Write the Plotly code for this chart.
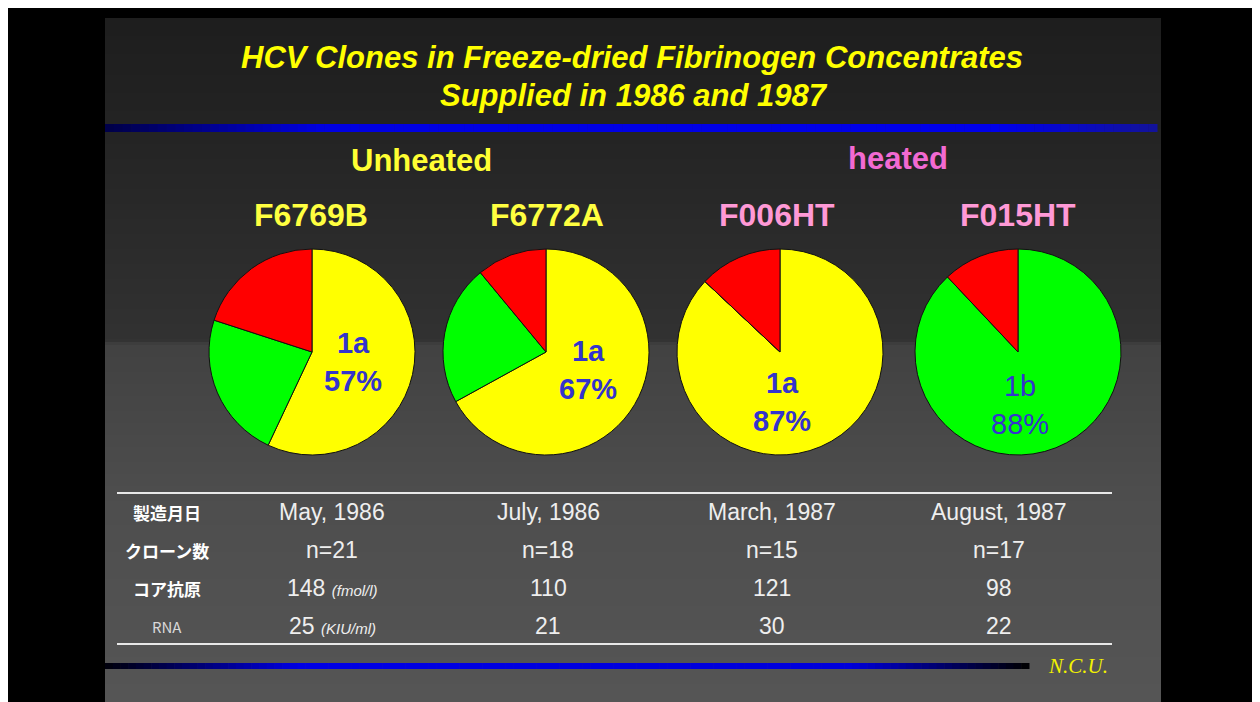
import plotly.graph_objects as go
import numpy as np

# ---------------- data ----------------
lots = ["F6769B", "F6772A", "F006HT", "F015HT"]
groups = ["Unheated", "heated"]
genotypes = ["1a", "1b", "other"]
share_1a = [57, 67, 87, 0]
share_1b = [23, 22, 0, 88]
share_other = [20, 11, 13, 12]
major_label = ["1a<br>57%", "1a<br>67%", "1a<br>87%", "1b<br>88%"]

row_labels = ["製造月日", "クローン数", "コア抗原", "RNA"]
dates = ["May, 1986", "July, 1986", "March, 1987", "August, 1987"]
clone_n = ["n=21", "n=18", "n=15", "n=17"]
core_antigen = ["148", "110", "121", "98"]
rna = ["25", "21", "30", "22"]

# ---------------- layout constants (screen pixel coordinates) ----------------
W, H = 1260, 702
OFF = 8                                # page body margin
SL, SR, ST = 105, 1161, 18           # slide extent
PIE_X = [312, 546, 780, 1018]
PIE_Y = 352
R = 103
LABEL_POS = [(353, 362), (588, 370), (782, 402), (1020, 405)]
COL_X = [332, 548, 772, 999]
ROW_Y = [512, 550, 588, 626]
ROWLAB_X = 167
SLICE_COLORS = ["#ffff00", "#00ff00", "#ff0000"]
FONT = "Liberation Sans, Arial, Noto Sans CJK JP, sans-serif"

shapes = []

# slide background gradient bands
stops_y = [ST, 130, 340, 345, 500, H + OFF]
stops_v = [30, 36, 50, 66, 78, 86]
step = 3
for y0 in range(ST, H + OFF, step):
    v = int(np.interp(y0 + step / 2, stops_y, stops_v))
    shapes.append(dict(type="rect", x0=SL, x1=SR, y0=y0, y1=y0 + step,
                       fillcolor=f"rgb({v},{v},{v})", line_width=0, layer="below"))


def hline_gradient(x_start, x_end, yc, thick, xs, cols, n=120):
    xs = np.array(xs, float)
    cols = np.array(cols, float)
    edges = np.linspace(x_start, x_end, n + 1)
    for a, b in zip(edges[:-1], edges[1:]):
        m = (a + b) / 2
        c = [int(np.interp(m, xs, cols[:, k])) for k in range(3)]
        shapes.append(dict(type="rect", x0=a, x1=b + 0.5, y0=yc - thick / 2, y1=yc + thick / 2,
                           fillcolor=f"rgb({c[0]},{c[1]},{c[2]})", line_width=0, layer="below"))


# top blue rule
hline_gradient(SL, SR - 4, 128, 8, [SL, 320, 1000, SR],
               [[0, 0, 70], [0, 0, 225], [0, 0, 235], [20, 20, 150]])
# bottom blue rule
hline_gradient(SL, 1029, 666, 6, [SL, 300, 850, 1029],
               [[0, 0, 10], [0, 0, 230], [0, 0, 220], [0, 0, 0]])

# table rules
for yy in [493, 644]:
    shapes.append(dict(type="line", x0=117, x1=1112, y0=yy, y1=yy,
                       line=dict(color="#e8e8e8", width=2), layer="below"))

fig = go.Figure()

# invisible anchor trace for the cartesian pixel-space axes
fig.add_trace(go.Scatter(x=[OFF, W + OFF], y=[OFF, H + OFF], mode="markers",
                         marker=dict(opacity=0), hoverinfo="skip", showlegend=False))

for i, lot in enumerate(lots):
    cx = PIE_X[i]
    fig.add_trace(go.Pie(
        labels=genotypes,
        values=[share_1a[i], share_1b[i], share_other[i]],
        sort=False, direction="clockwise", rotation=0,
        marker=dict(colors=SLICE_COLORS, line=dict(color="#111111", width=1)),
        textinfo="none", hoverinfo="skip", showlegend=False,
        domain=dict(x=[(cx - R - OFF) / W, (cx + R - OFF) / W],
                    y=[1 - (PIE_Y + R - OFF) / H, 1 - (PIE_Y - R - OFF) / H]),
    ))

ann = []


def add_text(x, y, text, size, color, family=FONT, xanchor="center"):
    ann.append(dict(x=x, y=y, xref="x", yref="y", text=text, showarrow=False,
                    xanchor=xanchor, yanchor="middle",
                    font=dict(family=family, size=size, color=color)))


# title
add_text(632, 57, "<b><i>HCV Clones in Freeze-dried Fibrinogen Concentrates</i></b>", 31, "#ffff00")
add_text(634, 95, "<b><i>Supplied in 1986 and 1987</i></b>", 31, "#ffff00")

# group headers
add_text(421, 160, "<b>" + groups[0] + "</b>", 31, "#ffff33")
add_text(898, 158, "<b>" + groups[1] + "</b>", 31, "#f26ad2")

# lot names
lot_colors = ["#ffff40", "#ffff40", "#ff99d6", "#ff99d6"]
LOT_X = [311, 547, 777, 1018]
for i, lot in enumerate(lots):
    add_text(LOT_X[i], 215, "<b>" + lot + "</b>", 32, lot_colors[i])

# pie labels
for i, lab in enumerate(major_label):
    t = lab if i == 3 else "<b>" + lab + "</b>"
    ann.append(dict(x=LABEL_POS[i][0], y=LABEL_POS[i][1], xref="x", yref="y", text=t,
                    showarrow=False, align="center",
                    font=dict(family=FONT, size=29, color="#3434cc")))

# table
for r, lab in enumerate(row_labels):
    col = "#d8d8d8" if lab == "RNA" else "#ffffff"
    add_text(ROWLAB_X, ROW_Y[r], ("<b>" + lab + "</b>") if r < 3 else lab,
             17 if r < 3 else 15, col,
             family="Noto Sans CJK JP, Liberation Sans, sans-serif")

unit_core = " <span style='font-size:15px'><i>(fmol/l)</i></span>"
unit_rna = " <span style='font-size:15px'><i>(KIU/ml)</i></span>"
for c in range(4):
    add_text(COL_X[c], ROW_Y[0], dates[c], 23, "#eeeeee")
    add_text(COL_X[c], ROW_Y[1], clone_n[c], 23, "#eeeeee")
    add_text(COL_X[c], ROW_Y[2], core_antigen[c] + (unit_core if c == 0 else ""), 23, "#eeeeee")
    add_text(COL_X[c], ROW_Y[3], rna[c] + (unit_rna if c == 0 else ""), 23, "#eeeeee")

# footer
add_text(1078, 666, "<i>N.C.U.</i>", 21, "#f2f200",
         family="Liberation Serif, Times New Roman, serif")

fig.update_layout(
    width=W, height=H,
    margin=dict(l=0, r=0, t=0, b=0),
    paper_bgcolor="#000000", plot_bgcolor="rgba(0,0,0,0)",
    xaxis=dict(range=[OFF, W + OFF], visible=False, fixedrange=True, domain=[0, 1]),
    yaxis=dict(range=[H + OFF, OFF], visible=False, fixedrange=True, domain=[0, 1]),
    shapes=shapes, annotations=ann,
    showlegend=False,
)

fig.write_html("out.html")
